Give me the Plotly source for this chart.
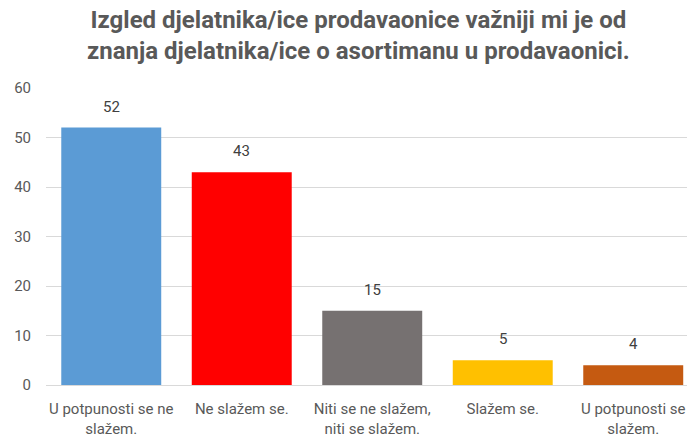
import plotly.graph_objects as go

categories = [
    "U potpunosti se ne<br>slažem.",
    "Ne slažem se.",
    "Niti se ne slažem,<br>niti se slažem.",
    "Slažem se.",
    "U potpunosti se<br>slažem.",
]
values = [52, 43, 15, 5, 4]
bar_colors = ["#5B9BD5", "#FF0000", "#767171", "#FFC000", "#C55A11"]

title_text = ("Izgled djelatnika/ice prodavaonice važniji mi je od<br>"
              "znanja djelatnika/ice o asortimanu u prodavaonici.")

font_family = "Roboto, Open Sans, sans-serif"
positions = list(range(len(categories)))

# figure geometry in pixels
W, H = 687, 438
M_L, M_R, M_T, M_B = 46, 0, 88, 51
plot_w = W - M_L - M_R
plot_h = H - M_T - M_B

fig = go.Figure(
    go.Bar(
        x=positions,
        y=values,
        marker=dict(color=bar_colors, line=dict(width=0)),
        hoverinfo="x+y",
    )
)

# value labels above each bar
for xi, v in zip(positions, values):
    fig.add_annotation(
        x=xi, y=v, xref="x", yref="y",
        text=str(v), showarrow=False,
        yanchor="bottom", yshift=10,
        font=dict(size=15, color="#404040", family=font_family),
    )

# two-line title, positioned in paper units from pixel coordinates
fig.add_annotation(
    x=(358 - M_L) / plot_w,
    y=(H - M_B - 3) / plot_h,
    xref="paper", yref="paper",
    xanchor="center", yanchor="top",
    text=title_text, showarrow=False,
    font=dict(size=24, color="#595959", family=font_family, weight="bold"),
    align="center",
)

fig.update_layout(
    width=W,
    height=H,
    paper_bgcolor="white",
    plot_bgcolor="white",
    margin=dict(l=M_L, r=M_R, t=M_T, b=M_B),
    bargap=0.234,
    showlegend=False,
    xaxis=dict(
        tickmode="array",
        tickvals=positions,
        ticktext=categories,
        range=[-0.5, 4.412],
        showgrid=False,
        showline=True,
        linecolor="#D9D9D9",
        ticks="",
        ticklabelstandoff=10,
        tickfont=dict(size=15, color="#595959", family=font_family),
        zeroline=False,
    ),
    yaxis=dict(
        range=[0, 60],
        tickmode="linear",
        dtick=10,
        showgrid=True,
        gridcolor="#D9D9D9",
        gridwidth=1,
        zeroline=False,
        showline=False,
        ticks="",
        ticklabelstandoff=14,
        tickfont=dict(size=15, color="#595959", family=font_family),
    ),
)

fig.write_html("out.html")
